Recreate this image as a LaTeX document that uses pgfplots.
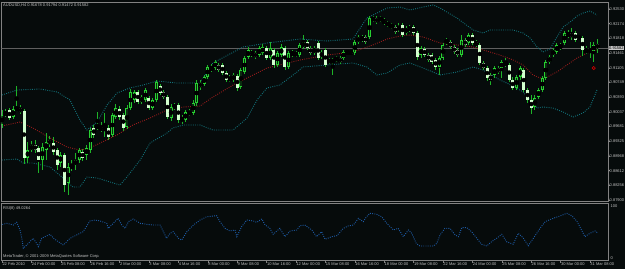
\documentclass[border=0pt]{standalone}
\usepackage{pgfplots}
\pgfplotsset{compat=1.18}
\usepackage{pgfplotstable}
\usepackage{fontspec}
\setmainfont{Liberation Sans}
\definecolor{bg}{RGB}{6,11,11}
\definecolor{frame}{RGB}{130,130,130}
\definecolor{bidline}{RGB}{95,95,95}
\definecolor{wick}{RGB}{30,180,40}
\definecolor{bullout}{RGB}{40,210,50}
\definecolor{bullin}{RGB}{10,45,14}
\definecolor{bearfill}{RGB}{210,255,205}
\definecolor{band}{RGB}{18,112,120}
\definecolor{mared}{RGB}{150,28,28}
\definecolor{rsicol}{RGB}{30,92,168}
\definecolor{lbl}{RGB}{195,195,195}
\definecolor{pricebox}{RGB}{200,200,200}
\newcommand\tf{\fontsize{4.0}{4.5}\selectfont}
\tikzset{mtdot/.style={dash pattern=on 0.9pt off 1.3pt, line width=0.9pt}}

\pgfplotstableread{
i o h l c
0 0.89719 0.90083 0.89647 0.89961
1 0.89961 0.90107 0.89913 0.90034
2 0.90083 0.90131 0.89840 0.89889
3 0.89913 0.90180 0.89865 0.90107
4 0.90107 0.90664 0.90058 0.90131
5 0.90131 0.90204 0.89986 0.90034
6 0.90058 0.90107 0.88774 0.88920
7 0.88920 0.89307 0.88798 0.89113
8 0.89113 0.89332 0.89065 0.89235
9 0.89235 0.89356 0.89041 0.89113
10 0.89162 0.89210 0.88556 0.88871
11 0.88871 0.89283 0.88629 0.89186
12 0.89113 0.89525 0.88871 0.89307
13 0.89356 0.89453 0.89186 0.89259
14 0.89283 0.89428 0.88992 0.89065
15 0.89113 0.89162 0.88629 0.88750
16 0.88798 0.89065 0.88702 0.88992
17 0.88992 0.89041 0.88096 0.88265
18 0.88314 0.88798 0.88023 0.88702
19 0.88677 0.88871 0.88605 0.88750
20 0.88750 0.89041 0.88629 0.88871
21 0.88871 0.89162 0.88798 0.89113
22 0.89065 0.89138 0.88847 0.88920
23 0.88992 0.89235 0.88871 0.89162
24 0.89113 0.89647 0.89041 0.89598
25 0.89647 0.89719 0.89404 0.89477
26 0.89647 0.90034 0.89598 0.89719
27 0.89671 0.89792 0.89550 0.89598
28 0.89598 0.90010 0.89428 0.89647
29 0.89647 0.89719 0.89356 0.89428
30 0.89477 0.90010 0.89428 0.89961
31 0.89913 0.90228 0.89865 0.90131
32 0.90107 0.90180 0.89840 0.89913
33 0.89961 0.90010 0.89574 0.89647
34 0.89671 0.90204 0.89622 0.90131
35 0.90131 0.90592 0.90083 0.90519
36 0.90325 0.90567 0.90252 0.90519
37 0.90519 0.90567 0.90228 0.90277
38 0.90277 0.90446 0.90228 0.90398
39 0.90325 0.90616 0.90277 0.90567
40 0.90373 0.90422 0.90083 0.90131
41 0.90131 0.90373 0.90083 0.90325
42 0.90325 0.90810 0.90277 0.90761
43 0.90664 0.90713 0.90446 0.90495
44 0.90519 0.90567 0.90349 0.90398
45 0.90398 0.90446 0.89865 0.89913
46 0.89889 0.90228 0.89816 0.90155
47 0.90131 0.90252 0.90083 0.90204
48 0.90204 0.90252 0.89768 0.89840
49 0.89840 0.89961 0.89743 0.89889
50 0.89840 0.90083 0.89792 0.90034
51 0.90034 0.90107 0.89937 0.89986
52 0.90010 0.90325 0.89961 0.90252
53 0.90252 0.90810 0.90180 0.90737
54 0.90737 0.90810 0.90567 0.90640
55 0.90713 0.90931 0.90664 0.90882
56 0.90882 0.91173 0.90834 0.91125
57 0.91125 0.91197 0.91003 0.91052
58 0.91100 0.91294 0.91052 0.91246
59 0.91173 0.91222 0.91003 0.91052
60 0.91173 0.91222 0.90931 0.90979
61 0.90979 0.91028 0.90761 0.90810
62 0.90810 0.90931 0.90761 0.90858
63 0.90810 0.90979 0.90761 0.90931
64 0.90906 0.90955 0.90543 0.90616
65 0.90640 0.91100 0.90592 0.91052
66 0.91003 0.91391 0.90955 0.91343
67 0.91367 0.91609 0.91318 0.91537
68 0.91488 0.91537 0.91367 0.91415
69 0.91464 0.91512 0.91318 0.91367
70 0.91415 0.91633 0.91367 0.91585
71 0.91464 0.91682 0.91415 0.91609
72 0.91585 0.91633 0.91294 0.91343
73 0.91343 0.91730 0.91294 0.91585
74 0.91537 0.91585 0.91100 0.91173
75 0.91173 0.91512 0.91125 0.91464
76 0.91415 0.91682 0.91367 0.91609
77 0.91585 0.91633 0.91052 0.91125
78 0.91125 0.91512 0.91076 0.91464
79 0.91488 0.91537 0.91367 0.91415
80 0.91415 0.91512 0.91367 0.91464
81 0.91415 0.91706 0.91367 0.91658
82 0.91609 0.91900 0.91561 0.91730
83 0.91730 0.91779 0.91537 0.91585
84 0.91585 0.91633 0.91415 0.91464
85 0.91464 0.91633 0.91415 0.91585
86 0.91706 0.91755 0.91294 0.91343
87 0.91367 0.91537 0.91318 0.91488
88 0.91537 0.91585 0.91125 0.91173
89 0.91246 0.91343 0.91197 0.91294
90 0.91294 0.91343 0.90931 0.91246
91 0.91294 0.91391 0.91246 0.91343
92 0.91343 0.91391 0.91197 0.91246
93 0.91343 0.91537 0.91294 0.91488
94 0.91488 0.91537 0.91415 0.91464
95 0.91488 0.91537 0.91415 0.91464
96 0.91464 0.91779 0.91415 0.91730
97 0.91730 0.91900 0.91682 0.91852
98 0.91779 0.91900 0.91730 0.91852
99 0.91852 0.91900 0.91682 0.91730
100 0.91852 0.92360 0.91803 0.92312
101 0.92263 0.92360 0.92215 0.92312
102 0.92312 0.92360 0.92167 0.92215
103 0.92263 0.92360 0.92215 0.92312
104 0.92263 0.92312 0.92142 0.92191
105 0.92191 0.92239 0.92094 0.92142
106 0.92142 0.92191 0.92045 0.92094
107 0.92094 0.92142 0.91924 0.91973
108 0.92021 0.92191 0.91973 0.92118
109 0.92142 0.92191 0.91852 0.91900
110 0.91948 0.92118 0.91900 0.92070
111 0.92021 0.92142 0.91973 0.92094
112 0.92094 0.92142 0.91900 0.91948
113 0.91948 0.91997 0.91294 0.91367
114 0.91415 0.91633 0.91343 0.91585
115 0.91561 0.91609 0.91367 0.91415
116 0.91415 0.91464 0.91246 0.91294
117 0.91415 0.91464 0.91197 0.91246
118 0.91294 0.91343 0.91052 0.91125
119 0.91125 0.91391 0.90931 0.91343
120 0.91343 0.91706 0.91294 0.91658
121 0.91706 0.91827 0.91658 0.91779
122 0.91730 0.91779 0.91561 0.91609
123 0.91609 0.91658 0.91440 0.91488
124 0.91537 0.91585 0.91367 0.91415
125 0.91415 0.91900 0.91367 0.91779
126 0.91779 0.91827 0.91609 0.91658
127 0.91706 0.91948 0.91658 0.91900
128 0.91900 0.91948 0.91658 0.91706
129 0.91730 0.91779 0.91609 0.91658
130 0.91658 0.91706 0.91173 0.91222
131 0.91222 0.91270 0.91052 0.91100
132 0.91100 0.91149 0.90785 0.90858
133 0.90931 0.90979 0.90688 0.90810
134 0.90931 0.91149 0.90858 0.91100
135 0.91100 0.91149 0.90955 0.91003
136 0.91100 0.91294 0.90858 0.91246
137 0.91246 0.91343 0.91125 0.91173
138 0.91173 0.91222 0.90761 0.90810
139 0.90810 0.90882 0.90567 0.90616
140 0.90616 0.90931 0.90567 0.90882
141 0.90882 0.91149 0.90810 0.91100
142 0.91052 0.91100 0.90519 0.90567
143 0.90567 0.90616 0.90252 0.90325
144 0.90325 0.90446 0.89986 0.90131
145 0.90155 0.90446 0.90083 0.90373
146 0.90398 0.90616 0.90349 0.90567
147 0.90567 0.90906 0.90519 0.90858
148 0.90858 0.91294 0.90810 0.91246
149 0.91246 0.91415 0.91197 0.91367
150 0.91415 0.91585 0.91367 0.91537
151 0.91488 0.91706 0.91440 0.91658
152 0.91658 0.91706 0.91537 0.91585
153 0.91706 0.91997 0.91658 0.91948
154 0.91876 0.92021 0.91827 0.91948
155 0.91948 0.92070 0.91779 0.91852
156 0.91948 0.91997 0.91730 0.91779
157 0.91852 0.91900 0.91779 0.91827
158 0.91827 0.91876 0.91391 0.91537
159 0.91537 0.91633 0.91440 0.91488
160 0.91464 0.91730 0.91343 0.91561
161 0.91512 0.91730 0.91246 0.91658
162 0.91678 0.91794 0.91472 0.91582
}\candles

\pgfplotstableread{
i p
0 0.90446
4.1 0.90567
10.3 0.90592
15.0 0.90519
18.5 0.90325
21.2 0.89840
23.1 0.89598
25.9 0.89792
28.6 0.90204
31.3 0.90495
34.8 0.90616
38.4 0.90688
42.2 0.90785
44.9 0.90761
47.6 0.90737
53.9 0.90737
57.4 0.91222
65.6 0.91609
72.1 0.91706
81.1 0.91803
88.4 0.91755
95.5 0.91803
99.3 0.92312
104.8 0.92554
108.3 0.92578
111.0 0.92506
114.6 0.92578
117.3 0.92627
119.2 0.92554
123.8 0.92312
128.2 0.92021
130.9 0.91948
132.8 0.92021
135.5 0.92021
139.1 0.92021
141.8 0.91948
143.7 0.91827
145.6 0.91609
147.2 0.91488
149.1 0.91561
151.0 0.91852
152.7 0.92094
154.6 0.92215
156.5 0.92360
158.1 0.92433
160.0 0.92481
161.9 0.92385
}\bbup

\pgfplotstableread{
i p
0 0.89695
4.9 0.89792
8.4 0.89647
13.1 0.89404
17.7 0.89186
21.2 0.89113
23.9 0.89162
26.7 0.89283
31.3 0.89477
35.6 0.89719
40.3 0.89889
44.9 0.90083
49.3 0.90155
53.9 0.90180
57.4 0.90398
62.9 0.90688
72.1 0.91100
81.1 0.91294
88.4 0.91415
95.5 0.91488
100.9 0.91658
104.8 0.91803
108.3 0.91876
111.0 0.91900
114.6 0.91852
119.2 0.91706
123.8 0.91658
128.2 0.91609
130.9 0.91537
135.5 0.91415
139.1 0.91294
141.8 0.91173
144.5 0.90931
146.4 0.90858
148.3 0.90882
151.0 0.91003
153.7 0.91173
156.5 0.91343
159.2 0.91464
161.9 0.91537
}\bbmid

\pgfplotstableread{
i p
0 0.88871
4.1 0.88895
5.7 0.88798
8.4 0.88798
13.1 0.88702
16.6 0.88435
19.3 0.88217
21.2 0.88217
23.1 0.88459
25.9 0.88435
29.4 0.88338
32.1 0.88265
34.0 0.88459
37.6 0.88871
40.3 0.89283
44.9 0.89525
46.5 0.89647
49.3 0.89719
53.9 0.89719
57.4 0.89598
62.9 0.89598
66.7 0.89889
69.4 0.90325
72.1 0.90616
75.6 0.90688
80.3 0.91003
81.9 0.91125
88.4 0.91173
95.5 0.91222
99.3 0.91125
102.0 0.90931
104.8 0.90979
108.3 0.91173
111.0 0.91222
114.6 0.91100
119.2 0.90931
123.8 0.91003
128.2 0.91125
130.9 0.91052
135.5 0.90810
139.1 0.90664
141.8 0.90519
143.7 0.90325
145.6 0.90131
147.2 0.90155
149.9 0.90131
152.7 0.90034
155.4 0.89913
158.1 0.90010
160.0 0.90155
161.9 0.90567
}\bblo

\pgfplotstableread{
i r
-0.5 62.4
1.3 65.4
3.1 62.4
4.0 67.1
4.9 53.7
5.4 39.2
5.8 21.7
6.7 27.4
7.6 33.2
8.5 39.2
9.4 30.4
9.9 24.5
10.8 39.2
11.7 42.0
13.1 46.1
14.0 39.2
15.3 33.2
16.7 27.4
17.6 33.2
18.5 39.2
20.3 44.9
22.1 50.7
23.9 69.4
25.3 71.1
26.7 69.4
28.5 65.4
28.9 56.6
30.3 65.4
31.6 74.1
32.6 62.4
33.5 56.6
34.4 68.2
35.7 72.9
37.6 65.4
39.4 63.6
41.2 62.4
43.0 62.4
44.8 39.2
45.7 47.9
46.6 50.7
48.0 39.2
48.9 36.2
50.3 50.7
51.2 56.6
52.1 62.4
53.9 71.1
55.7 76.9
58.4 78.7
59.3 68.2
60.7 56.6
62.0 51.9
63.4 53.7
63.9 42.0
65.2 59.4
66.6 71.1
68.4 69.4
69.3 67.1
70.7 72.9
71.6 62.4
72.9 56.6
73.8 46.1
75.6 56.6
77.0 42.0
78.4 51.9
80.2 53.7
81.1 61.2
82.4 62.4
84.3 53.7
85.6 42.0
87.0 50.7
87.9 37.4
89.7 42.0
91.1 43.7
92.9 56.6
94.2 60.7
95.6 62.4
97.0 74.1
98.3 68.2
99.2 76.9
100.1 82.9
102.0 81.1
103.3 76.9
104.7 65.4
106.5 53.7
107.8 56.6
109.2 42.0
110.6 53.7
111.5 47.9
112.7 30.4
113.7 25.7
115.6 25.7
117.4 25.7
118.3 30.4
119.2 44.9
120.5 56.6
121.9 56.6
123.3 44.9
124.2 42.0
125.1 57.7
126.5 57.7
127.8 50.7
129.2 39.2
130.5 28.7
131.9 25.7
133.2 33.2
134.6 39.2
136.0 46.1
137.3 33.2
139.1 28.7
140.5 47.9
141.9 39.2
143.2 26.2
144.6 39.2
146.4 56.6
147.8 68.2
150.0 74.1
151.8 78.1
153.7 82.9
155.0 78.7
156.4 69.4
157.7 53.7
158.6 42.0
160.0 47.9
161.4 51.9
162.0 49.0
}\rsidata

\begin{document}
\begin{tikzpicture}
\useasboundingbox (0pt,0pt) rectangle (625pt,269pt);
\fill[bg] (0pt,0pt) rectangle (625pt,269pt);
\begin{axis}[
  at={(1.5pt,67.5pt)}, anchor=south west,
  scale only axis, width=606.5pt, height=199.5pt,
  xmin=-0.136, xmax=164.9,
  ymin=0.878657, ymax=0.926995,
  axis line style={frame, line width=0.8pt},
  xtick=\empty,
  ytick={0.92530,0.92174,0.91818,0.91461,0.91105,0.90749,0.90393,0.90037,0.89681,0.89325,0.88968,0.88612,0.88256,0.87900},
  yticklabels={0.92530,0.92174,0.91818,0.91461,0.91105,0.90749,0.90393,0.90037,0.89681,0.89325,0.88968,0.88612,0.88256,0.87900},
  ytick pos=right, yticklabel pos=right,
  tick align=outside, major tick length=1.5pt,
  ytick style={frame, line width=0.5pt},
  yticklabel style={font=\tf, text=lbl, inner sep=0pt, anchor=west},
  clip mode=individual,
]
\addplot[bidline, line width=0.7pt, forget plot] coordinates {(-1,0.91582) (166,0.91582)};
\addplot[band, mtdot] table[x=i,y=p]{\bbup};
\addplot[band, mtdot] table[x=i,y=p]{\bblo};
\addplot[mared, mtdot] table[x=i,y=p]{\bbmid};
% wicks
\addplot[only marks, mark=none, error bars/.cd, y dir=both, y explicit, error mark=none,
  error bar style={draw=wick, line width=0.85pt}]
  table[x=i, y expr={(\thisrow{h}+\thisrow{l})/2}, y error expr={(\thisrow{h}-\thisrow{l})/2}]{\candles};
% bull bodies
\addplot[only marks, mark=none, error bars/.cd, y dir=both, y explicit, error mark=none,
  error bar style={draw=bullout, line width=3.0pt}]
  table[x=i, y expr={(\thisrow{o}+\thisrow{c})/2}, y error expr={max(\thisrow{c}-\thisrow{o},0)/2}]{\candles};
\addplot[only marks, mark=none, error bars/.cd, y dir=both, y explicit, error mark=none,
  error bar style={draw=bullin, line width=1.3pt}]
  table[x=i, y expr={(\thisrow{o}+\thisrow{c})/2}, y error expr={max(\thisrow{c}-\thisrow{o}-0.0004,0)/2}]{\candles};
% bear bodies
\addplot[only marks, mark=none, error bars/.cd, y dir=both, y explicit, error mark=none,
  error bar style={draw=bearfill, line width=3.0pt}]
  table[x=i, y expr={(\thisrow{o}+\thisrow{c})/2}, y error expr={max(\thisrow{o}-\thisrow{c},0)/2}]{\candles};
\addplot[only marks, mark=o, mark size=1.6pt, mark options={draw=red!80!black, line width=0.7pt}] coordinates {(161,0.91100)};
\end{axis}

\begin{axis}[
  at={(1.5pt,8.3pt)}, anchor=south west,
  scale only axis, width=606.5pt, height=57.2pt,
  xmin=-0.136, xmax=164.9, ymin=0, ymax=100,
  axis line style={frame, line width=0.8pt},
  ytick=\empty,
  xtick={0,8,16,24,32,40,48,56,64,72,80,88,96,104,112,120,128,136,144,152,160},
  xticklabels={22 Feb 2010,24 Feb 00:00,25 Feb 08:00,26 Feb 16:00,2 Mar 00:00,3 Mar 08:00,4 Mar 16:00,8 Mar 00:00,9 Mar 08:00,10 Mar 16:00,12 Mar 00:00,15 Mar 08:00,16 Mar 16:00,18 Mar 00:00,19 Mar 08:00,22 Mar 16:00,24 Mar 00:00,25 Mar 08:00,26 Mar 16:00,30 Mar 00:00,31 Mar 08:00},
  xtick pos=left, tick align=outside, major tick length=2pt,
  xtick style={frame, line width=0.5pt},
  xticklabel style={font=\tf, text=lbl, anchor=north west, inner sep=0pt, xshift=0.3pt, yshift=0.3pt},
]
\addplot[rsicol, mtdot] table[x=i,y=r]{\rsidata};
\end{axis}

\node[font=\tf, text=lbl, anchor=west, inner sep=0pt] at (3pt,263.5pt) {AUDUSD,H4 0.91678 0.91794 0.91472 0.91582};
\node[font=\tf, text=black, fill=pricebox, anchor=west, inner sep=0.5pt] at (608.5pt,220.9pt) {0.91582};
\node[font=\tf, text=lbl, anchor=west, inner sep=0pt] at (3pt,60.8pt) {RSI(8) 49.0264};
\node[font=\tf, text=lbl, anchor=west, inner sep=0pt] at (3pt,12.3pt) {MetaTrader, \textcopyright\ 2001-2009 MetaQuotes Software Corp.};
\node[font=\tf, text=lbl, anchor=west, inner sep=0pt] at (610.5pt,63pt) {100};
\node[font=\tf, text=lbl, anchor=west, inner sep=0pt] at (610.5pt,11pt) {0};
\end{tikzpicture}
\end{document}
